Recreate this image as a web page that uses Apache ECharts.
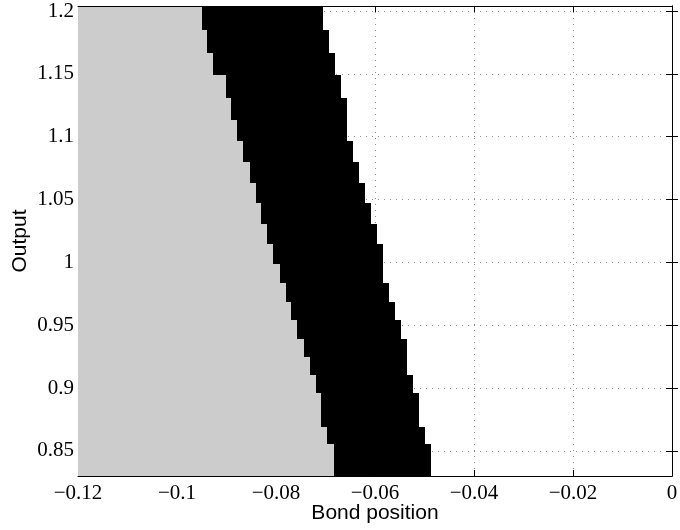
<!DOCTYPE html>
<html>
<head>
<meta charset="utf-8">
<script src="https://cdn.jsdelivr.net/npm/echarts@6/dist/echarts.min.js"></script>
<style>
  html, body { margin: 0; padding: 0; background: #ffffff; }
  #chart { width: 680px; height: 530px; }
</style>
</head>
<body>
<div id="chart"></div>
<script>
// Row edges of the map along the Output axis, top to bottom
const outputEdges = [1.2040, 1.1849, 1.1666, 1.1491, 1.1308, 1.1133, 1.0966, 1.0799,
  1.0632, 1.0473, 1.0306, 1.0147, 0.9988, 0.9836, 0.9685, 0.9542, 0.9391, 0.9248,
  0.9105, 0.8962, 0.8691, 0.8556, 0.8301];

// Bond position where the grey region ends, one value per row
const greyLimit = [-0.09505, -0.09384, -0.09263, -0.09020, -0.08899, -0.08778,
  -0.08657, -0.08535, -0.08414, -0.08293, -0.08172, -0.08051, -0.07929, -0.07808,
  -0.07687, -0.07566, -0.07444, -0.07323, -0.07202, -0.07081, -0.06960, -0.06838];

// Bond position where the black band ends, one value per row
const blackLimit = [-0.07057, -0.06935, -0.06814, -0.06693, -0.06572, -0.06572,
  -0.06451, -0.06329, -0.06208, -0.06087, -0.05966, -0.05844, -0.05844, -0.05723,
  -0.05602, -0.05481, -0.05360, -0.05360, -0.05238, -0.05117, -0.04996, -0.04875];

// Axis ranges and tick labels
const xRange = [-0.12, 0];
const yRange = [0.83, 1.204];
const xTickValues = [-0.12, -0.1, -0.08, -0.06, -0.04, -0.02, 0];
const xTickLabels = ['\u22120.12', '\u22120.1', '\u22120.08', '\u22120.06', '\u22120.04', '\u22120.02', '0'];
const yTickValues = [0.85, 0.9, 0.95, 1, 1.05, 1.1, 1.15, 1.2];
const yTickLabels = ['0.85', '0.9', '0.95', '1', '1.05', '1.1', '1.15', '1.2'];

const rows = greyLimit.map((g, i) => [outputEdges[i], outputEdges[i + 1], g, blackLimit[i]]);

function labelFor(values, labels) {
  return function (v) {
    const i = values.findIndex(t => Math.abs(t - v) < 1e-9);
    return i >= 0 ? labels[i] : '';
  };
}

// One row of the map: grey from the left edge, then the black band
function renderRow(params, api) {
  const top = api.coord([xRange[0], api.value(0)]);
  const g = api.coord([api.value(2), api.value(1)]);
  const b = api.coord([api.value(3), api.value(1)]);
  const x0 = Math.round(top[0]);
  const y0 = Math.round(top[1]);
  const y1 = Math.round(g[1]);
  const xg = Math.round(g[0]);
  const xb = Math.round(b[0]);
  return {
    type: 'group',
    children: [
      { type: 'rect', shape: { x: x0, y: y0, width: xg - x0, height: y1 - y0 },
        style: { fill: '#cccccc' } },
      { type: 'rect', shape: { x: xg, y: y0, width: xb - xg, height: y1 - y0 },
        style: { fill: '#000000' } }
    ]
  };
}

const serifFont = 'Liberation Serif, Times New Roman, serif';
const sansFont = 'Liberation Sans, Arial, sans-serif';
const gridDots = { show: true, lineStyle: { color: '#8c8c8c', width: 1, type: [1, 5] } };
const blackLine = { show: true, lineStyle: { color: '#000000', width: 1 } };
const innerTick = (vals) => ({ show: true, inside: true, length: 6, customValues: vals,
  lineStyle: { color: '#000000', width: 1 } });

const chart = echarts.init(document.getElementById('chart'), null, { renderer: 'canvas' });
chart.setOption({
  animation: false,
  backgroundColor: '#ffffff',
  grid: { left: 78, right: 8, top: 6, bottom: 54, containLabel: false, outerBoundsMode: 'none' },
  xAxis: [
    {
      type: 'value', position: 'bottom', min: xRange[0], max: xRange[1],
      name: 'Bond position', nameLocation: 'middle', nameGap: 27, nameMoveOverlap: false,
      nameTextStyle: { fontFamily: sansFont, fontSize: 21, color: '#000' },
      axisLine: blackLine,
      axisTick: innerTick(xTickValues),
      axisLabel: { customValues: xTickValues, formatter: labelFor(xTickValues, xTickLabels),
        fontFamily: serifFont, fontSize: 21, color: '#000', margin: 7 },
      splitLine: gridDots
    },
    {
      type: 'value', position: 'top', min: xRange[0], max: xRange[1],
      axisLine: { show: false },
      axisTick: innerTick(xTickValues),
      axisLabel: { show: false },
      splitLine: { show: false }
    },
    {
      type: 'value', position: 'top', min: xRange[0], max: xRange[1], z: 5,
      axisLine: blackLine, axisTick: { show: false }, axisLabel: { show: false },
      splitLine: { show: false }
    }
  ],
  yAxis: [
    {
      type: 'value', position: 'left', min: yRange[0], max: yRange[1],
      name: 'Output', nameLocation: 'middle', nameGap: 47, nameRotate: 90, nameMoveOverlap: false,
      nameTextStyle: { fontFamily: sansFont, fontSize: 21, color: '#000' },
      axisLine: blackLine,
      axisTick: innerTick(yTickValues),
      axisLabel: { customValues: yTickValues, formatter: labelFor(yTickValues, yTickLabels),
        fontFamily: serifFont, fontSize: 21, color: '#000', margin: 4 },
      splitLine: gridDots
    },
    {
      type: 'value', position: 'right', min: yRange[0], max: yRange[1], z: 5,
      axisLine: blackLine,
      axisTick: innerTick(yTickValues),
      axisLabel: { show: false },
      splitLine: { show: false }
    }
  ],
  series: [
    {
      type: 'custom',
      xAxisIndex: 0,
      yAxisIndex: 0,
      silent: true,
      renderItem: renderRow,
      encode: { x: [2, 3], y: [0, 1] },
      data: rows
    }
  ]
});
</script>
</body>
</html>
